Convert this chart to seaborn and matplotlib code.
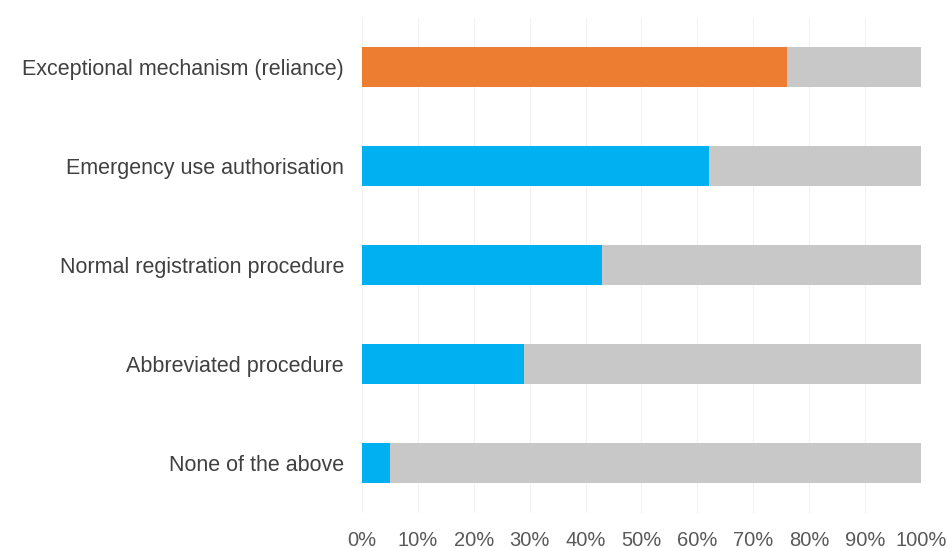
import matplotlib
matplotlib.use("Agg")
import matplotlib.pyplot as plt
import seaborn as sns
import pandas as pd
from matplotlib.ticker import PercentFormatter

categories = ["Exceptional mechanism (reliance)", "Emergency use authorisation",
              "Normal registration procedure", "Abbreviated procedure", "None of the above"]
values = [76, 62, 43, 29, 5]
totals = [100, 100, 100, 100, 100]
bar_colors = ["#ED7D31", "#00B0F0", "#00B0F0", "#00B0F0", "#00B0F0"]

df = pd.DataFrame({"category": categories, "value": values, "total": totals})

sns.set_theme(style="white")
plt.rcParams['font.family'] = ['Liberation Sans', 'DejaVu Sans']

fig = plt.figure(figsize=(9.53, 5.48), dpi=100)
ax = fig.add_axes([362/953, 1 - 512.5/548, (921-362)/953, 495/548])

sns.barplot(data=df, y="category", x="total", color="#C8C8C8", width=0.4,
            orient="h", ax=ax, saturation=1, linewidth=0)
sns.barplot(data=df, y="category", x="value", hue="category", palette=bar_colors,
            width=0.4, orient="h", ax=ax, saturation=1, legend=False, linewidth=0)

ax.set_xlim(0, 100)
ax.set_ylim(4.5, -0.5)
ax.set_xticks(range(0, 101, 10))
ax.xaxis.set_major_formatter(PercentFormatter(decimals=0))
ax.grid(axis="x", color="#F2F2F2", linewidth=0.8)
ax.set_axisbelow(True)
for s in ax.spines.values():
    s.set_visible(False)
ax.set_xlabel("")
ax.set_ylabel("")
ax.tick_params(axis="x", length=0, pad=13, labelsize=14.5, labelcolor="#595959")
ax.tick_params(axis="y", length=0, pad=13, labelsize=15.5, labelcolor="#404040")

fig.savefig("out.png", dpi=100)
